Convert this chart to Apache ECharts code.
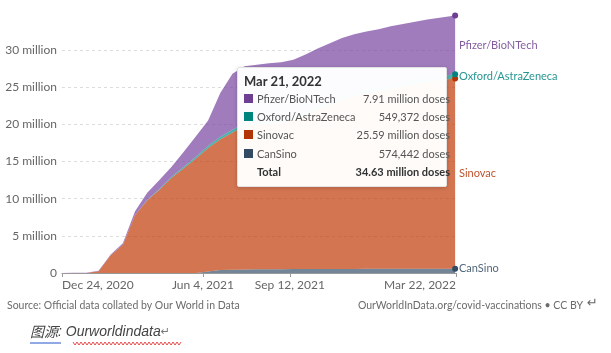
<!DOCTYPE html>
<html>
<head>
<meta charset="utf-8">
<script src="https://cdn.jsdelivr.net/npm/echarts@6/dist/echarts.min.js"></script>
<style>
  html, body { margin: 0; padding: 0; background: #fff; }
  #main { width: 611px; height: 353px; }
</style>
</head>
<body>
<div id="main"></div>
<script>
// data, millions of doses
var dates = ['2020-12-24', '2021-01-07', '2021-01-21', '2021-02-04', '2021-02-18', '2021-03-04',
    '2021-03-18', '2021-04-01', '2021-04-15', '2021-04-29', '2021-05-13', '2021-05-27',
    '2021-06-10', '2021-06-24', '2021-07-08', '2021-07-22', '2021-08-05', '2021-08-19',
    '2021-09-02', '2021-09-16', '2021-09-30', '2021-10-14', '2021-10-28', '2021-11-11',
    '2021-11-25', '2021-12-09', '2021-12-23', '2022-01-06', '2022-01-20', '2022-02-03',
    '2022-02-17', '2022-03-03', '2022-03-17', '2022-03-21'];
var pfizer = [0, 0.02, 0.04, 0.05, 0.1, 0.2, 0.5, 0.95, 1.2, 1.35, 2.0, 2.75,
    3.4, 5.87, 7.54, 7.6, 7.65, 7.68, 7.7, 7.72, 7.74, 7.76, 7.78, 7.8,
    7.82, 7.83, 7.84, 7.85, 7.86, 7.87, 7.885, 7.895, 7.91, 7.914];
var oxford = [0, 0, 0, 0, 0, 0, 0, 0.05, 0.1, 0.15, 0.2, 0.25,
    0.3, 0.33, 0.36, 0.38, 0.4, 0.41, 0.42, 0.43, 0.44, 0.45, 0.46, 0.47,
    0.48, 0.49, 0.5, 0.51, 0.52, 0.525, 0.53, 0.54, 0.548, 0.549372];
var sinovac = [0, 0, 0, 0.25, 2.4, 3.8, 7.8, 9.8, 11.2, 12.8, 14.1, 15.4,
    16.6, 17.6, 18.45, 19.34, 19.45, 19.6, 19.71, 20.02, 20.685, 21.45, 22.115, 22.78,
    23.247, 23.624, 23.901, 24.278, 24.555, 24.838, 25.116, 25.344, 25.549, 25.594];
var cansino = [0, 0, 0, 0, 0, 0, 0, 0, 0, 0, 0, 0,
    0.2, 0.4, 0.45, 0.48, 0.5, 0.51, 0.52, 0.53, 0.535, 0.54, 0.545, 0.55,
    0.553, 0.556, 0.559, 0.562, 0.565, 0.567, 0.569, 0.571, 0.573, 0.574442];
var xTicks = ['2020-12-24', '2021-06-04', '2021-09-12', '2022-03-22'];

var months = ['Jan', 'Feb', 'Mar', 'Apr', 'May', 'Jun', 'Jul', 'Aug', 'Sep', 'Oct', 'Nov', 'Dec'];
function toTime(s) {
    var p = s.split('-');
    return Date.UTC(+p[0], +p[1] - 1, +p[2]);
}
function fmtDate(s) {
    var d = new Date(toTime(s));
    return months[d.getUTCMonth()] + ' ' + d.getUTCDate() + ', ' + d.getUTCFullYear();
}
function fmtDoses(v) {
    if (v >= 1) return v.toFixed(2) + ' million doses';
    return Math.round(v * 1e6).toLocaleString('en-US') + ' doses';
}

// one category per day, first tick to last tick
var days = [];
for (var t = toTime(xTicks[0]); t <= toTime(xTicks[xTicks.length - 1]); t += 86400000) {
    days.push(new Date(t).toISOString().slice(0, 10));
}

// stack order bottom -> top
var vaccines = [
    { name: 'CanSino', color: '#334b63', data: cansino },
    { name: 'Sinovac', color: '#b13507', data: sinovac },
    { name: 'Oxford/AstraZeneca', color: '#00847e', data: oxford },
    { name: 'Pfizer/BioNTech', color: '#6d3e91', data: pfizer }
];
var last = dates.length - 1;
var font = 'Lato, "Noto Sans", sans-serif';
var isTick = function (idx, val) { return xTicks.indexOf(val) >= 0; };

var myChart = echarts.init(document.getElementById('main'));
var option = {
    animation: false,
    textStyle: { fontFamily: font },
    grid: { left: 62, right: 155, top: 12.8, bottom: 80, containLabel: false, outerBoundsMode: 'none' },
    tooltip: {
        trigger: 'axis',
        alwaysShowContent: true,
        position: [237, 67],
        padding: [5, 7, 5, 6],
        backgroundColor: 'rgba(255,255,255,0.97)',
        borderColor: '#e2e2e2',
        borderWidth: 1,
        extraCssText: 'box-shadow:0 1px 4px rgba(0,0,0,0.18);border-radius:2px;',
        axisPointer: { type: 'line', lineStyle: { color: 'rgba(0,0,0,0)' } },
        formatter: function () {
            var total = 0;
            var rows = '';
            for (var i = vaccines.length - 1; i >= 0; i--) {
                var v = vaccines[i];
                total += v.data[last];
                rows += '<tr><td style="padding:0 4px 0 0;width:9px"><span style="display:inline-block;width:9px;height:9px;background:' +
                    v.color + ';"></span></td><td style="padding:0;color:#555">' + v.name +
                    '</td><td style="padding:0;text-align:right;color:#555">' + fmtDoses(v.data[last]) + '</td></tr>';
            }
            rows += '<tr><td></td><td style="padding:0;font-weight:bold;color:#333">Total</td>' +
                '<td style="padding:0;text-align:right;font-weight:bold;color:#333">' + fmtDoses(total) + '</td></tr>';
            return '<div style="font-family:Lato,sans-serif;width:195px">' +
                '<div style="font-size:13px;font-weight:bold;color:#333;line-height:16px;margin:0 0 1px 0">' +
                fmtDate(dates[last]) + '</div>' +
                '<table style="border-collapse:collapse;width:100%;font-size:11px;line-height:18.2px">' + rows + '</table></div>';
        }
    },
    xAxis: {
        type: 'category',
        boundaryGap: false,
        data: days,
        splitLine: { show: false },
        axisLine: { lineStyle: { color: '#999' } },
        axisTick: { show: true, length: 4, interval: isTick, alignWithLabel: true, lineStyle: { color: '#999' } },
        axisLabel: {
            color: '#666', fontSize: 12, margin: 6,
            interval: isTick,
            formatter: function (v) { return fmtDate(v); },
            alignMinLabel: 'left',
            alignMaxLabel: 'right'
        }
    },
    yAxis: {
        type: 'value',
        min: 0,
        max: 35,
        interval: 5,
        axisLine: { show: false },
        axisTick: { show: false },
        axisLabel: {
            color: '#666', fontSize: 12, margin: 5,
            showMaxLabel: false,
            formatter: function (v) { return v === 0 ? '0' : v + ' million'; }
        },
        splitLine: { showMaxLine: false, lineStyle: { color: '#dcdcdc', type: [3, 3] } }
    },
    series: vaccines.map(function (v) {
        return {
            name: v.name,
            type: 'line',
            stack: 'total',
            showSymbol: false,
            symbol: 'circle',
            symbolSize: 4,
            color: v.color,
            lineStyle: { width: 0 },
            areaStyle: { color: v.color, opacity: 0.7 },
            data: dates.map(function (d, i) { return [d, v.data[i]]; })
        };
    }),
    graphic: [
        {
            type: 'text', left: 7, top: 300,
            style: { text: 'Source: Official data collated by Our World in Data', fill: '#6b6b6b', fontSize: 10.5, fontFamily: font }
        },
        {
            type: 'text', right: 28, top: 300,
            style: { text: 'OurWorldInData.org/covid-vaccinations \u2022 CC BY', fill: '#6b6b6b', fontSize: 10.5, fontFamily: font }
        },
        {
            type: 'text', left: 587, top: 297,
            style: { text: '\u21b5', fill: '#666', fontSize: 13, fontFamily: '"DejaVu Sans"' }
        },
        {
            type: 'text', left: 30, top: 325,
            style: {
                text: '{a|图源}{b|: Ourworldindata}{c|\u21b5}',
                rich: {
                    a: { fill: '#444', fontSize: 14, fontStyle: 'italic', fontFamily: '"Noto Sans CJK SC"' },
                    b: { fill: '#444', fontSize: 14, fontStyle: 'italic', fontFamily: '"Liberation Sans"' },
                    c: { fill: '#777', fontSize: 11, fontFamily: '"DejaVu Sans"' }
                }
            }
        },
        {
            type: 'line', shape: { x1: 30, y1: 343, x2: 61, y2: 343 },
            style: { stroke: '#2255cc', lineWidth: 1 }
        },
        {
            type: 'polyline',
            shape: {
                points: (function () {
                    var p = [];
                    for (var x = 73; x <= 182; x += 2) p.push([x, (x % 4 === 1) ? 342 : 345]);
                    return p;
                })()
            },
            style: { stroke: '#e02020', lineWidth: 0.8, fill: null }
        }
    ]
};
myChart.setOption(option);

// direct labels at the middle of each band on the right
var labels = [];
var base = 0;
var axisY = myChart.convertToPixel({ gridIndex: 0 }, [dates[last], 0])[1];
vaccines.forEach(function (v) {
    var lo = base, hi = base + v.data[last];
    base = hi;
    var pt = myChart.convertToPixel({ gridIndex: 0 }, [dates[last], (lo + hi) / 2]);
    labels.push({
        type: 'text',
        x: 459,
        y: Math.min(pt[1], axisY - 5),
        style: { text: v.name, fill: v.color, opacity: 0.85, fontSize: 11, fontFamily: font, verticalAlign: 'middle' }
    });
});
myChart.setOption({ graphic: option.graphic.concat(labels) });

myChart.dispatchAction({ type: 'showTip', seriesIndex: 0, dataIndex: last });

window.addEventListener('resize', function () {
    if (myChart != null && myChart != undefined) {
        myChart.resize();
    }
});
</script>
</body>
</html>
